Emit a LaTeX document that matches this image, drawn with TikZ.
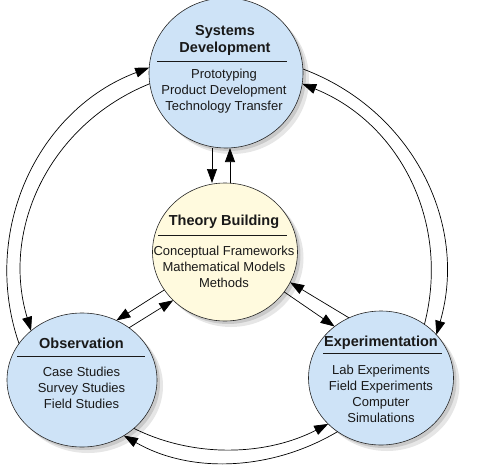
\documentclass[tikz,border=0pt]{standalone}
\usepackage{fontspec}
\setmainfont{Liberation Sans}
\usetikzlibrary{arrows.meta,positioning,shapes.geometric,shadows}
\definecolor{phasefill}{RGB}{206,227,247}
\definecolor{corefill}{RGB}{255,250,222}
\definecolor{ink}{RGB}{25,25,25}

\begin{document}
\begin{tikzpicture}[x=1pt, y=-1pt,
  soft/.style={drop shadow={shadow xshift=3pt, shadow yshift=-3pt, opacity=0.28},
               drop shadow={shadow xshift=6pt, shadow yshift=-6pt, opacity=0.2}},
  phase/.style={ellipse, draw=black!85, line width=0.6pt, fill=phasefill, inner sep=0pt, outer sep=0pt, soft},
  core/.style={phase, fill=corefill},
  head/.style={font=\bfseries\fontsize{14.5}{17}\selectfont, text=ink, align=center, inner sep=0pt},
  items/.style={font=\fontsize{13}{16}\selectfont, text=ink, align=center, inner sep=0pt},
  rule/.style={draw=ink, line width=0.8pt},
  flow/.style={-{Triangle[length=14pt, width=10pt]}, line width=0.7pt}]
\useasboundingbox (0,0) rectangle (477,466);
\node[phase, minimum width=154pt, minimum height=150pt] (sys) at (226,73) {};
\node[core, minimum width=145pt, minimum height=138pt] (theory) at (225,252) {};
\node[phase, minimum width=150pt, minimum height=134pt] (obs) at (82,380) {};
\node[phase, minimum width=145pt, minimum height=134pt] (exp) at (381,378) {};
\node[head] (sysT) at (225,40.5) {Systems\\Development};
\draw[rule] (157,61) -- (287,61);
\node[items] (sysL) at (224,91.5) {Prototyping\\Product Development\\Technology Transfer};
\node[head] (theoryT) at (224,222) {Theory Building};
\draw[rule] (158,235) -- (287,235);
\node[items] (theoryL) at (224,266.5) {Conceptual Frameworks\\Mathematical Models\\Methods};
\node[head] (obsT) at (81.5,343.5) {Observation};
\draw[rule] (17,356) -- (145,356);
\node[items] (obsL) at (81.5,388) {Case Studies\\Survey Studies\\Field Studies};
\node[head] (expT) at (381,342.5) {Experimentation};
\draw[rule] (323,353) -- (442,353);
\node[items] (expL) at (381,394) {Lab Experiments\\Field Experiments\\Computer\\Simulations};
\draw[flow] ([xshift=-14pt]sys.south) -- ([xshift=-13pt]theory.north);
\draw[flow] ([xshift=5pt]theory.north) -- ([xshift=4pt]sys.south);
\draw[flow] (theory.212) -- (obs.60);
\draw[flow] (obs.48) -- (theory.223);
\draw[flow] (exp.118) -- (theory.335);
\draw[flow] (theory.326) -- (exp.132);
\draw[flow] (obs.150) to[out=109, in=200.6] (sys.176.7);
\draw[flow] (sys.188.2) to[out=202, in=106.6] (obs.136.6);
\draw[flow] (sys.3.5) to[out=-20.5, in=73.8] (exp.38.8);
\draw[flow] (exp.51.9) to[out=75.6, in=-22] (sys.-8.1);
\draw[flow] (obs.-43.3) to[out=-26.4, in=207.3, looseness=0.9] (exp.221.4);
\draw[flow] (exp.231.7) to[out=210.7, in=330, looseness=0.92] (obs.307);
\end{tikzpicture}
\end{document}
